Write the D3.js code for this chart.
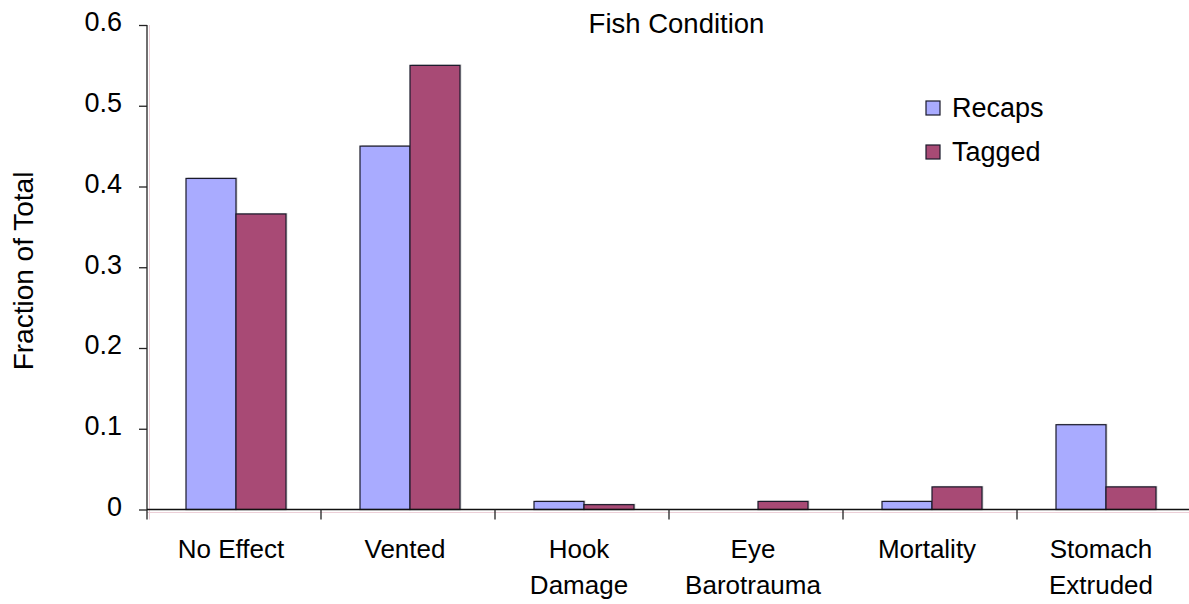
<!DOCTYPE html>
<html>
<head>
<meta charset="utf-8">
<script src="https://cdn.jsdelivr.net/npm/d3@7"></script>
<style>
  html, body { margin: 0; padding: 0; background: #fff; }
  svg { display: block; font-family: "Liberation Sans", Arial, sans-serif; }
</style>
</head>
<body>
<svg id="chart" width="1189" height="604"></svg>
<script>
// Fish condition categories (multi-line labels)
const categories = [
  ["No Effect"],
  ["Vented"],
  ["Hook", "Damage"],
  ["Eye", "Barotrauma"],
  ["Mortality"],
  ["Stomach", "Extruded"]
];
const seriesNames = ["Recaps", "Tagged"];
const recaps = [0.41, 0.45, 0.01, 0, 0.01, 0.105];
const tagged = [0.366, 0.55, 0.006, 0.01, 0.028, 0.028];
const yTicks = [0, 0.1, 0.2, 0.3, 0.4, 0.5, 0.6];
const colors = ["#a9abff", "#a84a75"];

const svg = d3.select("#chart");
const W = 1189;
const plotLeft = 147, plotRight = 1191, plotTop = 25, plotBottom = 509.5;

const x = d3.scaleBand()
  .domain(categories.map((d, i) => i))
  .range([plotLeft, plotRight])
  .paddingInner(0).paddingOuter(0);

// Series sub-band, nudged slightly right inside each category
const x1 = d3.scaleBand()
  .domain(seriesNames)
  .range([2, x.bandwidth() + 2])
  .paddingInner(0)
  .paddingOuter(0.74);

const y = d3.scaleLinear().domain([0, 0.6]).range([plotBottom, plotTop]);

// Faint offset guide lines along the axes
svg.append("line")
  .attr("x1", plotLeft + 2.5).attr("x2", plotLeft + 2.5)
  .attr("y1", y(0.6)).attr("y2", y(0) + 10)
  .attr("stroke", "#ecd0d8").attr("stroke-width", 1);
svg.append("line")
  .attr("x1", plotLeft).attr("x2", W)
  .attr("y1", y(0) + 3).attr("y2", y(0) + 3)
  .attr("stroke", "#ecd0d8").attr("stroke-width", 1);

// Bars with a faint drop shadow
const g = svg.append("g");
categories.forEach((c, i) => {
  [recaps[i], tagged[i]].forEach((v, k) => {
    if (v <= 0) return;
    const bx = x(i) + x1(seriesNames[k]);
    const bw = x1.bandwidth();
    g.append("rect")
      .attr("x", bx + 1.5).attr("y", y(v) - 1)
      .attr("width", bw).attr("height", y(0) - y(v) + 1)
      .attr("fill", "#c4c4c4").attr("opacity", 0.7);
    g.append("rect")
      .attr("x", bx).attr("y", y(v))
      .attr("width", bw).attr("height", y(0) - y(v))
      .attr("fill", colors[k])
      .attr("stroke", "#1a1a2a").attr("stroke-width", 1.2);
  });
});

// Y axis
const yAxis = d3.axisLeft(y).tickValues(yTicks).tickSize(8).tickPadding(17)
  .tickFormat(d => d === 0 ? "0" : d3.format(".1f")(d));
const ya = svg.append("g").attr("transform", `translate(${plotLeft},0)`).call(yAxis);
ya.select(".domain").remove();
ya.selectAll("line").attr("stroke", "#222").attr("stroke-width", 1.3);
ya.selectAll("text").attr("font-size", 27).attr("fill", "#000").attr("dy", "0.22em");
svg.append("line")
  .attr("x1", plotLeft).attr("x2", plotLeft)
  .attr("y1", y(0.6)).attr("y2", y(0) + 10)
  .attr("stroke", "#222").attr("stroke-width", 1.3);

// X baseline and category separators
svg.append("line")
  .attr("x1", plotLeft).attr("x2", W)
  .attr("y1", y(0)).attr("y2", y(0))
  .attr("stroke", "#111").attr("stroke-width", 1.3);
categories.forEach((c, i) => {
  if (i === 0) return;
  svg.append("line")
    .attr("x1", x(i)).attr("x2", x(i))
    .attr("y1", y(0)).attr("y2", y(0) + 10)
    .attr("stroke", "#222").attr("stroke-width", 1.3);
});

// Category labels
categories.forEach((lines, i) => {
  const cx = x(i) + x.bandwidth() / 2 - 3;
  const t = svg.append("text")
    .attr("x", cx)
    .attr("y", 558)
    .attr("text-anchor", "middle")
    .attr("font-size", 26)
    .attr("fill", "#000");
  lines.forEach((ln, j) => {
    t.append("tspan").attr("x", cx).attr("dy", j === 0 ? 0 : 36).text(ln);
  });
});

// Title
svg.append("text")
  .attr("x", 676.5).attr("y", 33)
  .attr("text-anchor", "middle")
  .attr("font-size", 27.5)
  .text("Fish Condition");

// Y axis title
svg.append("text")
  .attr("transform", `translate(33,271) rotate(-90)`)
  .attr("text-anchor", "middle")
  .attr("font-size", 28)
  .text("Fraction of Total");

// Legend
const legend = svg.append("g").attr("transform", "translate(926,101)");
seriesNames.forEach((name, k) => {
  const row = legend.append("g").attr("transform", `translate(0,${k * 44})`);
  row.append("rect").attr("x", 0).attr("y", 0).attr("width", 14).attr("height", 14)
    .attr("fill", colors[k]).attr("stroke", "#1a1a2a").attr("stroke-width", 1.2);
  row.append("text").attr("x", 26).attr("y", 16).attr("font-size", 27).text(name);
});
</script>
</body>
</html>
